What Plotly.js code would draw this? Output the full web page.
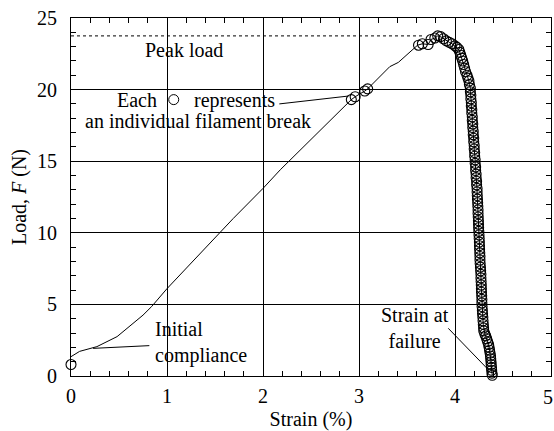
<!DOCTYPE html>
<html>
<head>
<meta charset="utf-8">
<script src="https://cdn.plot.ly/plotly-3.0.1.min.js"></script>
<style>html,body{margin:0;padding:0;background:#fff;}#chart{width:554px;height:431px;}</style>
</head>
<body>
<div id="chart"></div>
<script>
// Continuous load-strain curve (rising part up to the peak)
var curveStrain = [0, 0.09, 0.27, 0.48, 0.75, 0.84, 1.0, 1.55, 1.69, 2.0, 2.18, 2.92, 2.96, 3.06, 3.09, 3.32, 3.41, 3.61, 3.66, 3.72, 3.75, 3.79];
var curveLoad   = [1.35, 1.72, 2.05, 2.75, 4.25, 4.85, 6.1, 10.0, 11.0, 13.1, 14.4, 19.3, 19.5, 19.9, 20.05, 21.6, 21.9, 23.1, 23.2, 23.15, 23.5, 23.6];

// Individual filament breaks
var breakStrain = [0, 2.92, 2.96, 3.06, 3.09, 3.62, 3.66, 3.72, 3.75, 3.79,
  3.82, 3.85, 3.88, 3.91, 3.94, 3.97, 4.00, 4.02, 4.04, 4.05, 4.06, 4.07, 4.08, 4.09, 4.10, 4.11, 4.125, 4.135, 4.145, 4.15,
  4.16, 4.16, 4.165, 4.165, 4.17, 4.17, 4.175, 4.175, 4.18, 4.18, 4.185, 4.185, 4.19, 4.19, 4.195, 4.195, 4.20, 4.20, 4.205, 4.205,
  4.21, 4.21, 4.215, 4.215, 4.22, 4.22, 4.225, 4.225, 4.23, 4.23, 4.232, 4.234, 4.236, 4.238, 4.24, 4.24, 4.242, 4.244, 4.245, 4.246,
  4.248, 4.25, 4.252, 4.254, 4.255, 4.256, 4.258, 4.26, 4.26, 4.262, 4.265, 4.267, 4.27, 4.27, 4.272, 4.274, 4.275, 4.276, 4.278, 4.28,
  4.28, 4.282, 4.285, 4.287, 4.29, 4.292, 4.295, 4.298, 4.30, 4.31, 4.32, 4.33, 4.34, 4.35, 4.355, 4.36, 4.365, 4.37, 4.372, 4.375,
  4.377, 4.38, 4.382, 4.385, 4.388];
var breakLoad = [0.8, 19.3, 19.5, 19.9, 20.05, 23.1, 23.2, 23.15, 23.5, 23.6,
  23.75, 23.7, 23.55, 23.4, 23.3, 23.2, 23.05, 22.95, 22.8, 22.6, 22.4, 22.2, 22.0, 21.75, 21.5, 21.25, 21.0, 20.8, 20.6, 20.35,
  20.1, 19.85, 19.6, 19.35, 19.1, 18.85, 18.6, 18.35, 18.1, 17.85, 17.6, 17.35, 17.1, 16.85, 16.6, 16.35, 16.1, 15.85, 15.6, 15.35,
  15.1, 14.85, 14.6, 14.35, 14.1, 13.85, 13.6, 13.35, 13.1, 12.85, 12.6, 12.35, 12.1, 11.85, 11.6, 11.35, 11.1, 10.85, 10.6, 10.35,
  10.1, 9.85, 9.6, 9.35, 9.1, 8.85, 8.6, 8.35, 8.1, 7.85, 7.6, 7.35, 7.1, 6.85, 6.6, 6.35, 6.1, 5.85, 5.6, 5.35,
  5.1, 4.85, 4.6, 4.35, 4.1, 3.85, 3.6, 3.35, 3.15, 2.95, 2.8, 2.6, 2.4, 2.2, 2.0, 1.8, 1.6, 1.4, 1.2, 1.0,
  0.8, 0.6, 0.4, 0.2, 0.05];

var peakLoad = 23.75;
var xTicks = [0, 1, 2, 3, 4, 5];
var xTickText = ['0', '1', '2', '3', '4', ''];   // last label drawn as an annotation so it stays inside the page
var lastXTick = '5';
var yTicks = [0, 5, 10, 15, 20, 25];

// Line continues through the post-peak break points
var lineX = curveStrain.concat(breakStrain.slice(10));
var lineY = curveLoad.concat(breakLoad.slice(10));

var FONT = 'Liberation Serif';
var FS = 20;
var TF = {family: FONT, size: FS, color: '#000'};

var traces = [
  {x: lineX, y: lineY, mode: 'lines', line: {color: '#000', width: 1}, hoverinfo: 'skip', showlegend: false},
  {x: breakStrain, y: breakLoad, mode: 'markers', cliponaxis: false, marker: {symbol: 'circle-open', size: 10, color: '#000', line: {width: 1.1, color: '#000'}}, showlegend: false},
  {x: [1.07], y: [19.3], mode: 'markers', marker: {symbol: 'circle-open', size: 10, color: '#000', line: {width: 1, color: '#000'}}, showlegend: false}
];

var layout = {
  width: 554, height: 431,
  margin: {l: 71, r: 3, t: 18, b: 55},
  paper_bgcolor: '#fff', plot_bgcolor: '#fff',
  font: TF,
  showlegend: false,
  xaxis: {
    range: [0, 5], tickvals: xTicks, ticktext: xTickText,
    showgrid: true, gridcolor: '#000', gridwidth: 1,
    showline: true, linecolor: '#000', linewidth: 1, mirror: 'ticks',
    ticks: 'inside', ticklen: 6, tickcolor: '#000',
    minor: {dtick: 0.2, ticks: 'inside', ticklen: 5, tickcolor: '#000', showgrid: false},
    zeroline: false, ticklabelstandoff: 2,
    tickfont: TF,
    title: {text: 'Strain (%)', font: TF, standoff: 6}
  },
  yaxis: {
    range: [0, 25], tickvals: yTicks, ticktext: yTicks.map(String),
    showgrid: true, gridcolor: '#000', gridwidth: 1,
    showline: true, linecolor: '#000', linewidth: 1, mirror: 'ticks',
    ticks: 'inside', ticklen: 6, tickcolor: '#000',
    minor: {dtick: 1, ticks: 'inside', ticklen: 5, tickcolor: '#000', showgrid: false},
    zeroline: false, ticklabelstandoff: 9,
    tickfont: TF,
    title: {text: 'Load, <i>F</i> (N)', font: TF, standoff: 5}
  },
  shapes: [
    {type: 'line', x0: 0, x1: 3.68, y0: peakLoad, y1: peakLoad, line: {color: '#000', width: 1, dash: '3px,3px'}},
    {type: 'line', x0: 2.17, y0: 19.0, x1: 2.89, y1: 19.55, line: {color: '#000', width: 1}},
    {type: 'line', x0: 0.816, y0: 2.12, x1: 0.23, y1: 1.93, line: {color: '#000', width: 1}},
    {type: 'line', x0: 3.93, y0: 3.33, x1: 4.35, y1: 0.42, line: {color: '#000', width: 1}}
  ],
  annotations: [
    {x: 1.18, y: 22.8, text: 'Peak load', showarrow: false, xanchor: 'center', yanchor: 'middle', font: TF},
    {x: 0.893, y: 19.25, text: 'Each', showarrow: false, xanchor: 'right', yanchor: 'middle', xshift: 2, font: TF},
    {x: 1.281, y: 19.25, text: 'represents', showarrow: false, xanchor: 'left', yanchor: 'middle', xshift: -2, font: TF},
    {x: 1.323, y: 17.8, text: 'an individual filament break', showarrow: false, xanchor: 'center', yanchor: 'middle', font: TF},
    {x: 0.875, y: 2.35, text: 'Initial<br>compliance', showarrow: false, xanchor: 'left', yanchor: 'middle', align: 'left', xshift: -2, font: TF},
    {x: 3.58, y: 3.35, text: 'Strain at<br>failure', showarrow: false, xanchor: 'center', yanchor: 'middle', align: 'center', font: TF},
    {x: 5, y: 0, xref: 'x', yref: 'y', text: lastXTick, showarrow: false, xanchor: 'right', yanchor: 'top', xshift: 4, yshift: -8, font: TF}
  ]
};

Plotly.newPlot('chart', traces, layout, {displayModeBar: false, staticPlot: true});
</script>
</body>
</html>
